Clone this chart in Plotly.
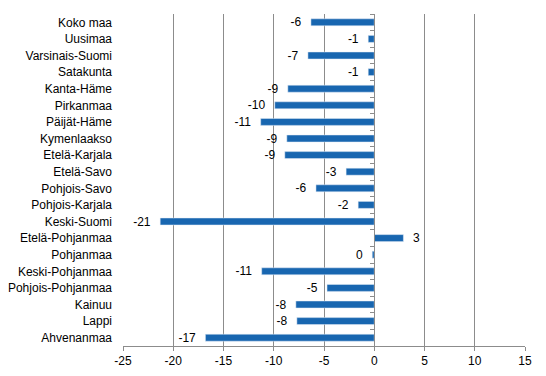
import plotly.graph_objects as go

categories = ["Koko maa", "Uusimaa", "Varsinais-Suomi", "Satakunta", "Kanta-Häme",
              "Pirkanmaa", "Päijät-Häme", "Kymenlaakso", "Etelä-Karjala", "Etelä-Savo",
              "Pohjois-Savo", "Pohjois-Karjala", "Keski-Suomi", "Etelä-Pohjanmaa",
              "Pohjanmaa", "Keski-Pohjanmaa", "Pohjois-Pohjanmaa", "Kainuu", "Lappi",
              "Ahvenanmaa"]
values = [-6.3, -0.6, -6.6, -0.6, -8.6, -9.9, -11.3, -8.7, -8.9, -2.8,
          -5.8, -1.6, -21.3, 2.9, -0.2, -11.2, -4.7, -7.8, -7.7, -16.8]
x_ticks = [-25, -20, -15, -10, -5, 0, 5, 10, 15]

labels = []
for v in values:
    s = str(int(round(v)))
    labels.append(("\u00a0\u00a0" + s) if v >= 0 else (s + "\u00a0\u00a0"))

bar_color = "#1866b0"
grid_color = "#8c8c8c"
font = dict(family="Liberation Sans, Arial, sans-serif", size=12, color="#000000")

fig = go.Figure()
fig.add_trace(go.Bar(
    x=values, y=categories, orientation="h",
    marker=dict(color=bar_color, line=dict(width=0)),
    text=labels, textposition="outside", cliponaxis=False,
    constraintext="none", textfont=font, hoverinfo="x+y", showlegend=False,
))
# invisible copy on the zero-line axis to carry category tick marks
fig.add_trace(go.Bar(
    x=values, y=categories, orientation="h", yaxis="y2",
    marker=dict(color="rgba(0,0,0,0)"), hoverinfo="skip", showlegend=False,
))

left, right, top, bottom = 123, 21, 14, 30
W, H = 546, 376
zero_pos = (374 - left) / (W - left - right)

fig.update_layout(
    width=W, height=H,
    margin=dict(l=left, r=right, t=top, b=bottom, pad=0, autoexpand=False),
    paper_bgcolor="white", plot_bgcolor="white",
    bargap=0.58, barmode="overlay",
    font=font,
    xaxis=dict(
        range=[-25, 15], tickmode="array", tickvals=x_ticks,
        ticktext=[str(t) for t in x_ticks],
        showgrid=True, gridcolor=grid_color, gridwidth=1,
        zeroline=False, showline=True, linecolor=grid_color, linewidth=1,
        ticks="outside", ticklen=4, tickcolor=grid_color,
        tickfont=font, domain=[0, 1], automargin=False,
    ),
    yaxis=dict(
        type="category", categoryorder="array", categoryarray=categories,
        autorange="reversed", showgrid=False, zeroline=False, showline=False,
        ticks="", ticklabelstandoff=10, tickfont=font, automargin=False,
    ),
    yaxis2=dict(
        type="category", categoryorder="array", categoryarray=categories,
        autorange="reversed", overlaying="y", anchor="free", position=zero_pos,
        matches="y", automargin=False,
        showgrid=False, zeroline=False, showline=True, linecolor=grid_color,
        linewidth=1, ticks="outside", tickson="boundaries", ticklen=4,
        tickcolor=grid_color, showticklabels=False,
    ),
)

fig.write_html(
    "out.html",
    config={"displayModeBar": False},
    post_script="document.body.style.margin='0';document.body.style.overflow='hidden';",
)
